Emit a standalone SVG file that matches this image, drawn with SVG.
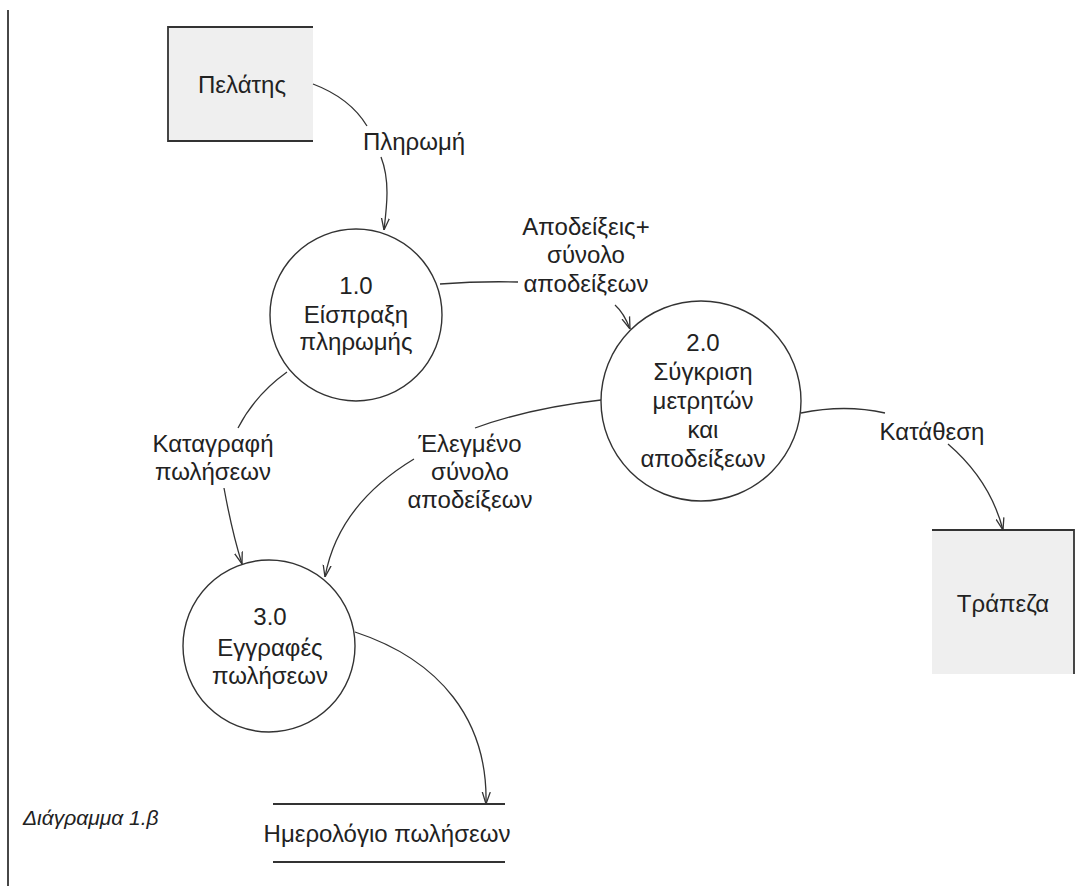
<svg xmlns="http://www.w3.org/2000/svg" width="1083" height="886" viewBox="0 0 1083 886">
  <style>
    .bg { fill: #ffffff; }
    .edge { fill: none; stroke: #333333; stroke-width: 1.3; }
    .proc { fill: none; stroke: #333333; stroke-width: 1.4; }
    .ent { fill: #efefef; stroke: none; }
    .rule { fill: none; stroke: #333333; stroke-width: 1.8; }
    .t { font-family: "Liberation Sans", Arial, sans-serif; font-size: 24px; fill: #222222; text-anchor: middle; }
    .cap { font-family: "Liberation Sans", Arial, sans-serif; font-size: 21px; font-style: italic; fill: #222222; }
  </style>
  <defs>
    <marker id="arrow" markerUnits="userSpaceOnUse" viewBox="0 0 12 10" refX="12" refY="5" markerWidth="12" markerHeight="10" orient="auto">
      <path d="M0,1 L12,5 L0,9" fill="none" stroke="#333333" stroke-width="1.3"/>
    </marker>
  </defs>

  <rect class="bg" x="0" y="0" width="1083" height="886"/>

  <!-- page margin rule -->
  <line class="rule" x1="8" y1="10" x2="8" y2="886"/>

  <!-- external entity: customer -->
  <g id="customer">
    <rect class="ent" x="168" y="27" width="145" height="114"/>
    <path class="rule" d="M313,27 H168 V141 H313"/>
    <text class="t" x="242" y="93">Πελάτης</text>
  </g>

  <!-- external entity: bank -->
  <g id="bank">
    <rect class="ent" x="932" y="530" width="142" height="144"/>
    <path class="rule" d="M932,530 H1074 V674"/>
    <text class="t" x="1003" y="612">Τράπεζα</text>
  </g>

  <!-- process 1.0 -->
  <g id="p1">
    <circle class="proc" cx="356" cy="315" r="86"/>
    <text class="t" x="356" y="294">1.0</text>
    <text class="t" x="356" y="323">Είσπραξη</text>
    <text class="t" x="356" y="350">πληρωμής</text>
  </g>

  <!-- process 2.0 -->
  <g id="p2">
    <circle class="proc" cx="701" cy="401" r="100"/>
    <text class="t" x="703" y="351">2.0</text>
    <text class="t" x="703" y="380">Σύγκριση</text>
    <text class="t" x="703" y="409">μετρητών</text>
    <text class="t" x="703" y="438">και</text>
    <text class="t" x="703" y="467">αποδείξεων</text>
  </g>

  <!-- process 3.0 -->
  <g id="p3">
    <circle class="proc" cx="269" cy="646" r="86"/>
    <text class="t" x="270" y="625">3.0</text>
    <text class="t" x="270" y="656">Εγγραφές</text>
    <text class="t" x="270" y="684">πωλήσεων</text>
  </g>

  <!-- data store: sales journal -->
  <g id="journal">
    <line class="rule" x1="273" y1="804" x2="505" y2="804"/>
    <line class="rule" x1="273" y1="862" x2="505" y2="862"/>
    <text class="t" x="387" y="842">Ημερολόγιο πωλήσεων</text>
  </g>

  <!-- data flows -->
  <g id="flows">
    <path class="edge" d="M313,84 Q350,98 367,126"/>
    <path class="edge" d="M381,157 C390,180 387,205 384,230" marker-end="url(#arrow)"/>
    <text class="t" x="414" y="150">Πληρωμή</text>

    <path class="edge" d="M440,284 Q480,281 518,282"/>
    <path class="edge" d="M615,305 Q624,313 630,329" marker-end="url(#arrow)"/>
    <text class="t" x="586" y="235">Αποδείξεις+</text>
    <text class="t" x="586" y="263">σύνολο</text>
    <text class="t" x="586" y="292">αποδείξεων</text>

    <path class="edge" d="M287,372 Q255,395 238,428"/>
    <path class="edge" d="M224,488 Q232,532 242,564" marker-end="url(#arrow)"/>
    <text class="t" x="213" y="452">Καταγραφή</text>
    <text class="t" x="213" y="480">πωλήσεων</text>

    <path class="edge" d="M601,400 Q530,408 475,428"/>
    <path class="edge" d="M414,459 Q338,505 325,577" marker-end="url(#arrow)"/>
    <text class="t" x="470" y="452">Έλεγμένο</text>
    <text class="t" x="470" y="480">σύνολο</text>
    <text class="t" x="470" y="508">αποδείξεων</text>

    <path class="edge" d="M801,413 Q845,404 885,413"/>
    <path class="edge" d="M948,444 Q990,480 1003,530" marker-end="url(#arrow)"/>
    <text class="t" x="932" y="440">Κατάθεση</text>

    <path class="edge" d="M355,632 C440,660 488,720 486,804" marker-end="url(#arrow)"/>
  </g>

  <!-- caption -->
  <text class="cap" x="23" y="825">Διάγραμμα 1.β</text>
</svg>
